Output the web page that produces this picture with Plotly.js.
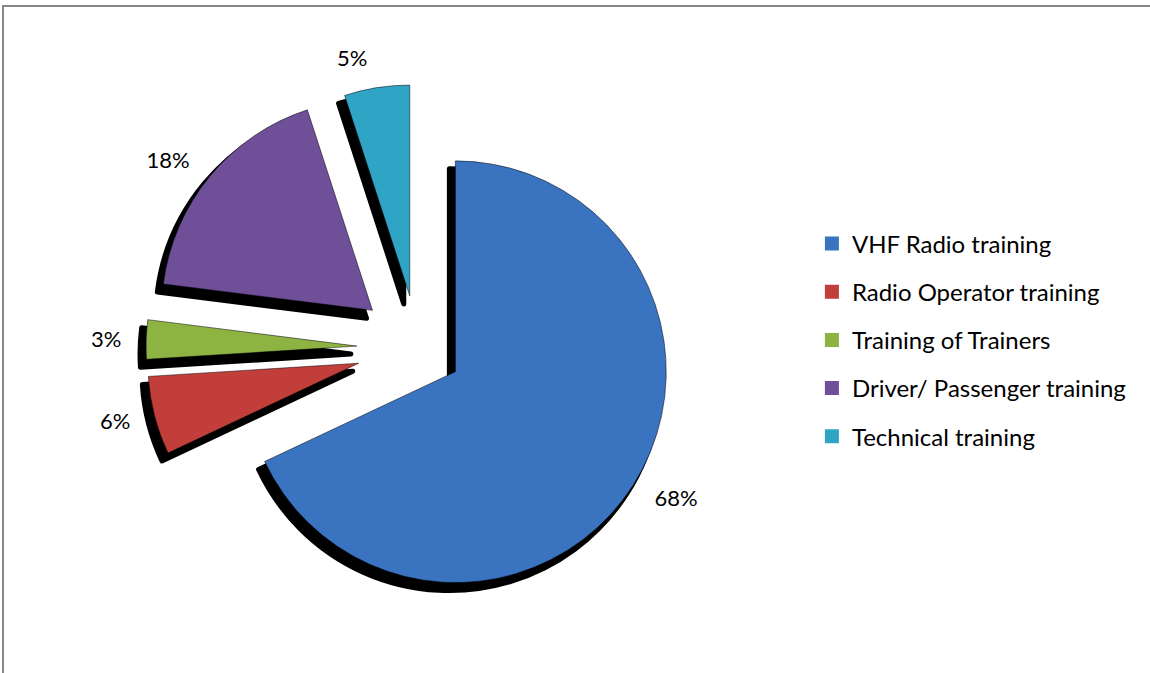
<!DOCTYPE html>
<html>
<head>
<meta charset="utf-8">
<script src="https://cdn.plot.ly/plotly-3.0.1.min.js"></script>
<style>html,body{margin:0;padding:0;background:#fff;}#chart{width:1150px;height:673px;}</style>
</head>
<body>
<div id="chart"></div>
<script>
var categories = ["VHF Radio training", "Radio Operator training", "Training of Trainers", "Driver/ Passenger training", "Technical training"];
var shares = [68, 6, 3, 18, 5];
var sliceColors = ["#3A74C0", "#C23E3B", "#8DB442", "#6E4F98", "#2FA4C4"];
var pulls = [0.21, 0.29, 0.29, 0.28, 0.25];

var W = 1150, H = 673;
var cx = 418, cy = 348, half = 272;
function dom(dx, dy, h) {
  h = h || half;
  return {
    x: [(cx - h + dx) / W, (cx + h + dx) / W],
    y: [(H - cy - h - dy) / H, (H - cy + h - dy) / H]
  };
}
var font = "Lato, 'Open Sans', sans-serif";

var shadow = {
  type: "pie", labels: categories, values: shares, sort: false,
  direction: "clockwise", rotation: 0, pull: pulls,
  marker: {colors: categories.map(function(){return "#000";}), line: {color: "#000", width: 5}},
  textinfo: "none", hoverinfo: "skip", showlegend: false,
  domain: dom(-6, 8)
};
var main = {
  type: "pie", labels: categories, values: shares, sort: false,
  direction: "clockwise", rotation: 0, pull: pulls,
  marker: {colors: sliceColors, line: {color: "#000", width: 0.5}},
  textinfo: "none", showlegend: false,
  domain: dom(0, 0)
};
var labelRing = {
  type: "pie", labels: categories, values: shares, sort: false,
  direction: "clockwise", rotation: 0, pull: pulls,
  marker: {colors: categories.map(function(){return "rgba(0,0,0,0)";}), line: {width: 0}},
  textinfo: "percent", textposition: "outside",
  texttemplate: "%{percent:.0%}",
  outsidetextfont: {family: font, size: 22, color: "#000"},
  hoverinfo: "skip", showlegend: false,
  domain: dom(0, 0, 290)
};
var legendTraces = categories.map(function(c, i) {
  return {
    type: "scatter", mode: "markers", x: [null], y: [null], name: c,
    legendgroup: "g" + i, showlegend: true,
    marker: {symbol: "square", size: 14, color: sliceColors[i]}
  };
});

var layout = {
  width: W, height: H,
  margin: {l: 0, r: 0, t: 0, b: 0},
  paper_bgcolor: "#fff", plot_bgcolor: "rgba(0,0,0,0)",
  xaxis: {visible: false}, yaxis: {visible: false},
  showlegend: true,
  legend: {
    x: 0.706, xanchor: "left", y: 0.671, yanchor: "top",
    font: {family: font, size: 24, color: "#000"},
    traceorder: "grouped", tracegroupgap: 14, bgcolor: "rgba(0,0,0,0)"
  },
  shapes: [{
    type: "rect", xref: "paper", yref: "paper",
    x0: 3 / W, x1: 1.02, y0: -0.05, y1: (H - 6) / H,
    line: {color: "#878787", width: 2}
  }]
};

Plotly.newPlot("chart", [shadow, main, labelRing].concat(legendTraces), layout, {displayModeBar: false, staticPlot: true});
</script>
</body>
</html>
